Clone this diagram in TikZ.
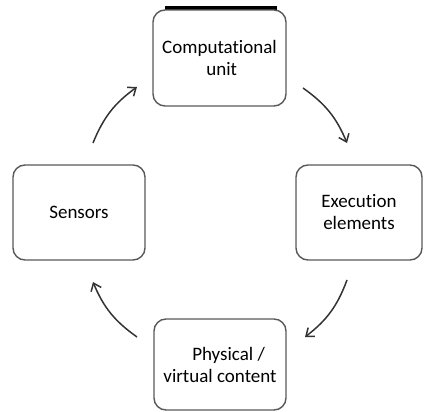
\documentclass[tikz,border=0pt]{standalone}
\usepackage{fontspec}
\setmainfont{Carlito}[Ligatures=NoCommon]
\usetikzlibrary{arrows.meta}

\tikzset{
	stage/.style={draw=black!65, line width=1.4pt, rounded corners=12pt, fill=white,
		align=center, font=\fontsize{19}{22}\selectfont, inner sep=0pt},
	cycle/.style={draw=black!80, line width=1.5pt, -{Straight Barb[length=7pt,width=11pt]}, bend left=16}
}

\begin{document}
\begin{tikzpicture}[x=1pt, y=-1pt]
\useasboundingbox (0,0) rectangle (424,412);

\fill (165,6) rectangle (277,12);

\node[stage, minimum width=133pt, minimum height=96pt] (comp) at (219.5,58) {Computational\\ \ unit};
\node[stage, minimum width=126pt, minimum height=95pt] (exec) at (359,212.5) {Execution\\elements};
\node[stage, minimum width=132pt, minimum height=91pt] (phys) at (220,364.5) {\ \ \ \ Physical /\\virtual content};
\node[stage, minimum width=132pt, minimum height=95pt] (sens) at (79,212.5) {Sensors};

\coordinate (a1) at (93,143);
\coordinate (b1) at (137,87);
\coordinate (a2) at (303,88);
\coordinate (b2) at (347,143);
\coordinate (a3) at (347,280);
\coordinate (b3) at (305,337);
\coordinate (a4) at (137,337);
\coordinate (b4) at (93,282);

\foreach \i in {1,...,4} {
	\draw[cycle] (a\i) to (b\i);
}

\end{tikzpicture}
\end{document}
